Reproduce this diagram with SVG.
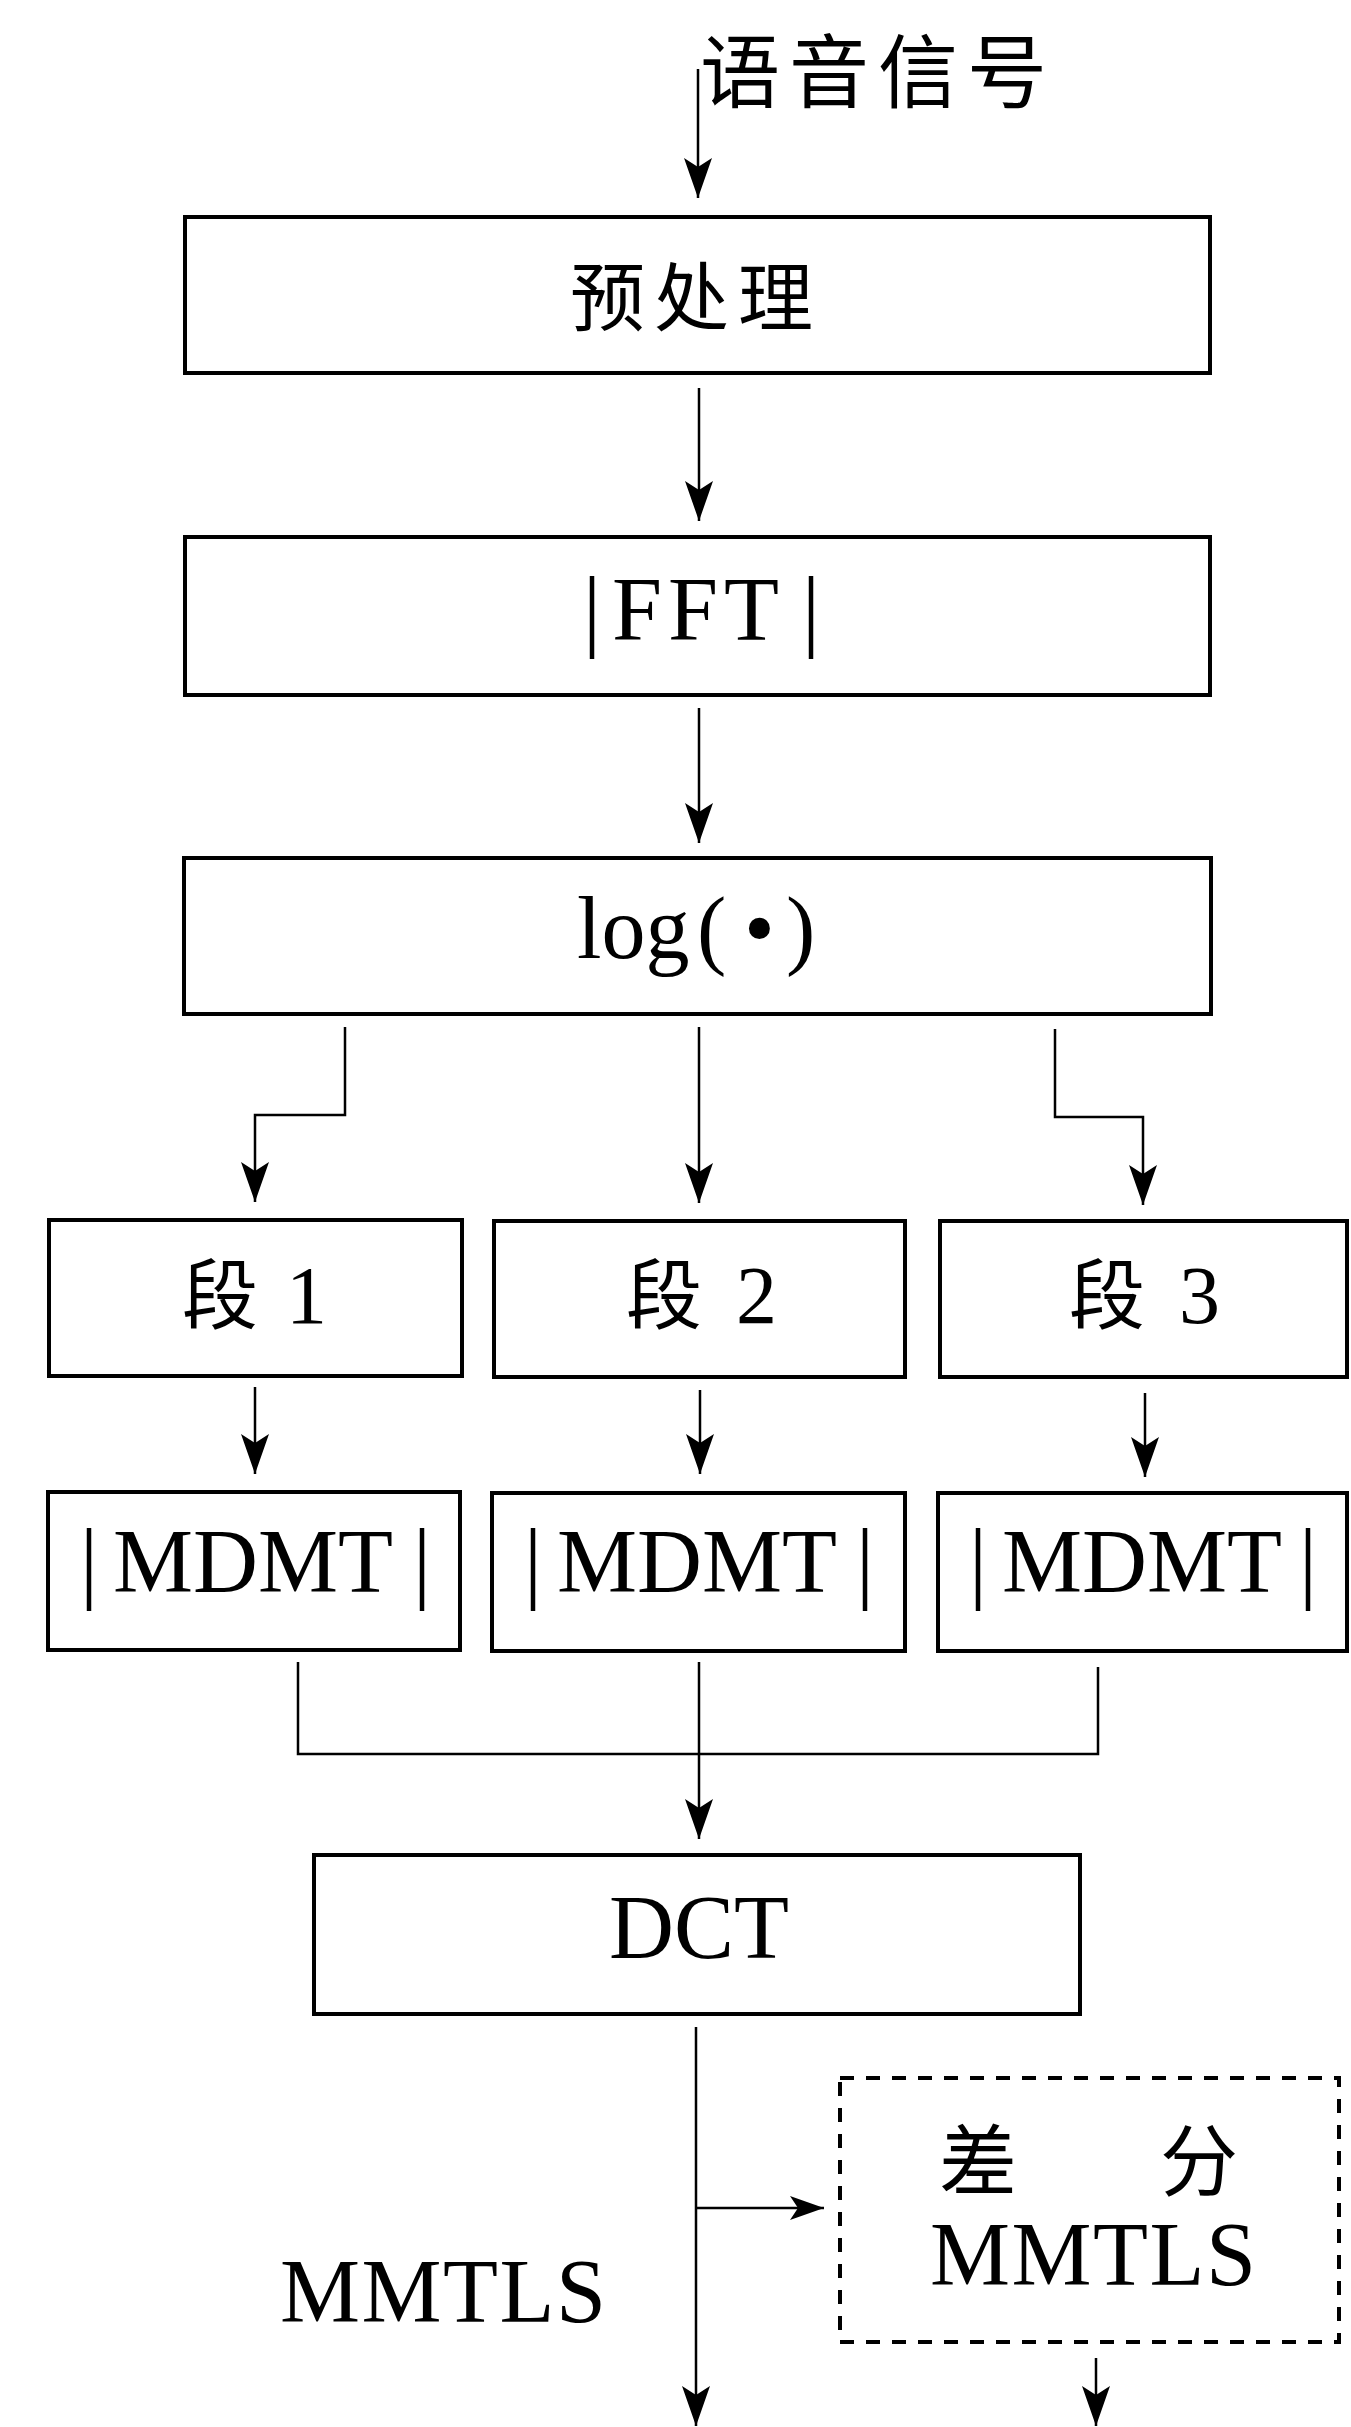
<svg xmlns="http://www.w3.org/2000/svg" width="1351" height="2427" viewBox="0 0 1351 2427">
  <style>
    .box { fill: #fff; stroke: #000; stroke-width: 4; }
    .dash { fill: none; stroke: #000; stroke-width: 4; stroke-dasharray: 14 12; }
    .wire { fill: none; stroke: #000; stroke-width: 2.5; }
    .lbl { font-family: "Liberation Serif", "Noto Sans CJK SC", serif; fill: #000; }
    .cjk { font-family: "Noto Sans CJK SC", "Liberation Serif", sans-serif; font-weight: normal; fill: #000; }
  </style>
  <defs>
    <marker id="head" viewBox="0 0 40 30" refX="40" refY="15" markerWidth="40" markerHeight="30" markerUnits="userSpaceOnUse" orient="auto">
      <path d="M40 15 L0 1 L9 15 L0 29 Z" fill="#000"/>
    </marker>
    <marker id="headS" viewBox="0 0 34 26" refX="34" refY="13" markerWidth="34" markerHeight="26" markerUnits="userSpaceOnUse" orient="auto">
      <path d="M34 13 L0 1 L8 13 L0 25 Z" fill="#000"/>
    </marker>
  </defs>

  <!-- input label -->
  <g id="input">
    <text class="cjk" x="700" y="101" font-size="80" letter-spacing="9">语音信号</text>
  </g>

  <g id="preprocess">
    <rect class="box" x="185" y="217" width="1025" height="156"/>
    <text class="cjk" x="570" y="325" font-size="75" letter-spacing="9">预处理</text>
  </g>

  <g id="fft">
    <rect class="box" x="185" y="537" width="1025" height="158"/>
    <text class="lbl" y="640" font-size="90"><tspan x="583">|</tspan><tspan x="612" letter-spacing="6">FFT</tspan><tspan x="802">|</tspan></text>
  </g>

  <g id="log">
    <rect class="box" x="184" y="858" width="1027" height="156"/>
    <text class="lbl" y="958" font-size="88"><tspan x="577">log</tspan><tspan x="697">(</tspan><tspan x="744">•</tspan><tspan x="786">)</tspan></text>
  </g>

  <g id="seg1">
    <rect class="box" x="49" y="1220" width="413" height="156"/>
    <text y="1323"><tspan class="cjk" x="182" font-size="76">段</tspan><tspan class="lbl" x="286" font-size="82">1</tspan></text>
  </g>
  <g id="seg2">
    <rect class="box" x="494" y="1221" width="411" height="156"/>
    <text y="1323"><tspan class="cjk" x="626" font-size="76">段</tspan><tspan class="lbl" x="736" font-size="82">2</tspan></text>
  </g>
  <g id="seg3">
    <rect class="box" x="940" y="1221" width="407" height="156"/>
    <text y="1323"><tspan class="cjk" x="1069" font-size="76">段</tspan><tspan class="lbl" x="1179" font-size="82">3</tspan></text>
  </g>

  <g id="mdmt1">
    <rect class="box" x="48" y="1492" width="412" height="158"/>
    <text class="lbl" y="1592" font-size="90"><tspan x="80">|</tspan><tspan x="113">MDMT</tspan><tspan x="413">|</tspan></text>
  </g>
  <g id="mdmt2">
    <rect class="box" x="492" y="1493" width="413" height="158"/>
    <text class="lbl" y="1592" font-size="90"><tspan x="524">|</tspan><tspan x="557">MDMT</tspan><tspan x="856">|</tspan></text>
  </g>
  <g id="mdmt3">
    <rect class="box" x="938" y="1493" width="409" height="158"/>
    <text class="lbl" y="1592" font-size="90"><tspan x="969">|</tspan><tspan x="1002">MDMT</tspan><tspan x="1299">|</tspan></text>
  </g>

  <g id="dct">
    <rect class="box" x="314" y="1855" width="766" height="159"/>
    <text class="lbl" x="609" y="1958" font-size="90">DCT</text>
  </g>

  <g id="delta">
    <rect class="dash" x="840" y="2078" width="499" height="264"/>
    <text class="cjk" y="2190" font-size="78"><tspan x="939">差</tspan><tspan x="1160">分</tspan></text>
    <text class="lbl" x="930" y="2285" font-size="90" letter-spacing="1.5">MMTLS</text>
  </g>

  <g id="output">
    <text class="lbl" x="280" y="2322" font-size="90" letter-spacing="1.5">MMTLS</text>
  </g>

  <g id="connectors">
    <path class="wire" d="M698 69 V198" marker-end="url(#head)"/>
    <path class="wire" d="M699 388 V521" marker-end="url(#head)"/>
    <path class="wire" d="M699 708 V843" marker-end="url(#head)"/>
    <path class="wire" d="M345 1027 V1115 H255 V1202" marker-end="url(#head)"/>
    <path class="wire" d="M699 1027 V1203" marker-end="url(#head)"/>
    <path class="wire" d="M1055 1029 V1117 H1143 V1205" marker-end="url(#head)"/>
    <path class="wire" d="M255 1387 V1474" marker-end="url(#head)"/>
    <path class="wire" d="M700 1390 V1474" marker-end="url(#head)"/>
    <path class="wire" d="M1145 1393 V1477" marker-end="url(#head)"/>
    <path class="wire" d="M298 1662 V1754 H1098 V1667"/>
    <path class="wire" d="M699 1662 V1839" marker-end="url(#head)"/>
    <path class="wire" d="M696 2027 V2426" marker-end="url(#head)"/>
    <path class="wire" d="M696 2208 H824" marker-end="url(#headS)"/>
    <path class="wire" d="M1096 2358 V2426" marker-end="url(#head)"/>
  </g>
</svg>
